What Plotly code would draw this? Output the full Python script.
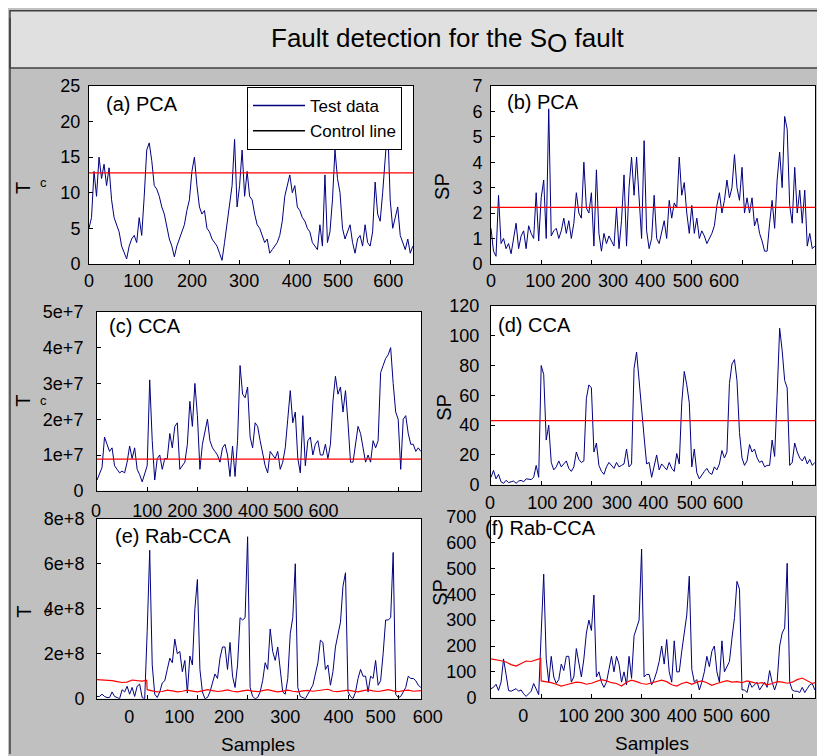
import plotly.graph_objects as go
import numpy as np

W, H = 825, 756
OFF = 8  # page margin around the figure
# measured vertical placement of the rendered page (page_y = VS * y + VB)
VS, VB = 0.974, 9.2
FONT = "Liberation Sans, Arial, sans-serif"
NAVY = "#000080"
RED = "#ff0000"

# ---------------- data (sample index every 5 samples) ----------------
SAMPLES = list(range(0, 650, 5))

PCA_T2 = [
    5, 6.5, 13, 9.5, 15, 12, 14, 11, 13.5, 9,
    6.5, 5.5, 4.5, 2.5, 1.5, 0.7, 2.5, 3.5, 4, 3,
    6.5, 4, 9.5, 16, 17, 14.5, 11, 10.5, 9.5, 8,
    7, 5, 3.5, 2.5, 1, 2.5, 3.5, 4.5, 5.5, 7.5,
    9, 13, 15, 11, 8, 7, 7.5, 5, 4.5, 3.5,
    3, 2.5, 1.5, 0.5, 3, 5.5, 8, 11, 17.5, 8,
    11, 16, 9.5, 13, 9.5, 9, 7, 5.5, 5, 4,
    3, 3.5, 1.5, 2, 2.5, 3, 4, 6, 9.5, 11,
    12.5, 10, 11, 8, 7.5, 6.5, 6, 5, 4.5, 3,
    2.5, 2, 5.5, 2.5, 12.5, 3, 4.5, 9, 16, 12,
    10, 5, 3.5, 4.5, 5.5, 3, 1.5, 3.5, 4, 2.5,
    5.5, 3, 2.5, 4.5, 11.5, 7, 6, 10, 15, 19.5,
    9, 5, 6.5, 8, 4, 3, 2, 3.5, 1.5, 2.5,
]
PCA_SP = [
    1.4, 0.5, 0.3, 2.7, 0.8, 1.0, 0.6, 0.8, 0.4, 1.0,
    1.6, 0.6, 1.1, 1.3, 0.6, 1.5, 1.2, 1.0, 2.8, 0.9,
    2.6, 3.3, 1.0, 6.1, 1.1, 1.3, 1.4, 1.0, 1.3, 1.8,
    1.2, 1.7, 1.0, 1.6, 2.8, 2.0, 1.8, 4.0, 2.2, 2.0,
    2.8, 0.7, 3.7, 1.2, 0.5, 1.2, 0.8, 1.1, 0.9, 0.7,
    2.2, 0.6, 1.7, 3.5, 0.7, 3.0, 4.2, 2.7, 4.2, 2.4,
    1.0, 4.85, 1.3, 0.6, 1.0, 2.7, 1.0, 0.8, 1.2, 1.7,
    1.0, 2.5, 1.8, 2.4, 2.2, 4.2, 2.7, 3.2, 2.0, 1.2,
    2.3, 1.2, 1.8, 1.0, 1.3, 1.1, 0.8, 1.0, 1.2, 1.5,
    2.3, 2.8, 2.0, 2.5, 3.3, 2.6, 3.0, 4.3, 3.0, 2.5,
    3.8, 2.0, 2.6, 2.0, 2.6, 1.5, 1.8, 1.2, 0.9, 0.5,
    0.5, 1.6, 2.5, 1.4, 3.3, 4.4, 3.0, 5.8, 5.3, 2.3,
    1.6, 3.8, 2.0, 2.9, 1.6, 2.9, 0.7, 1.2, 0.6, 0.7,
]
CCA_T2_E7 = [
    0.3, 0.5, 0.65, 1.5, 1.3, 1.1, 1.2, 0.7, 0.6, 0.5,
    0.55, 0.5, 0.8, 1.25, 0.9, 1.2, 0.6, 0.45, 0.25, 0.5,
    0.7, 3.1, 1.4, 0.3, 0.9, 1.0, 0.6, 0.9, 0.9, 1.6,
    1.2, 1.8, 1.9, 0.6, 0.7, 0.8, 1.3, 2.5, 1.8, 3.0,
    2.1, 0.6, 1.3, 1.7, 2.0, 1.4, 1.2, 1.1, 1.0, 0.8,
    1.2, 1.3, 1.0, 0.4, 1.25, 0.4, 1.4, 3.5, 2.7, 2.6,
    2.9, 1.5, 1.2, 1.9, 1.8, 1.4, 1.0, 0.7, 0.5, 1.1,
    1.0, 0.9, 1.1, 0.6, 0.8, 1.2, 2.0, 2.8, 1.9, 2.2,
    0.9, 0.5, 2.1, 0.7, 1.4, 1.5, 1.0, 1.3, 1.4, 1.0,
    1.0, 1.3, 0.9, 1.3, 2.5, 3.2, 2.7, 2.9, 2.2, 2.8,
    1.9, 0.8, 0.8, 1.3, 1.8, 1.6, 1.2, 0.8, 1.0, 0.8,
    1.4, 1.2, 1.4, 3.3, 3.5, 3.7, 3.8, 4.0, 3.0, 2.2,
    2.0, 0.6, 2.0, 2.1, 1.6, 1.3, 1.3, 1.1, 1.2, 1.1,
]
CCA_SP = [
    5, 9.6, 4, 7, 2, 1, 3, 1.5, 2, 2.5,
    1, 2.5, 3, 2, 4, 3.5, 3.5, 5, 13, 5,
    80, 74, 30, 40, 15, 10, 12, 16, 12, 14,
    16, 11, 9, 12, 22, 17, 15, 16, 58, 67,
    65, 22, 28, 13, 9, 7, 12, 15, 13, 11,
    15, 12, 13, 14, 24, 12, 14, 78, 89, 68,
    52, 32, 14, 15, 5, 12, 20, 10, 14, 12,
    10, 15, 11, 9, 21, 14, 55, 76, 67, 55,
    12, 24, 8, 4, 7, 9, 11, 8, 7, 12,
    10, 14, 23, 18, 22, 68, 81, 84, 70, 35,
    18, 13, 16, 27, 22, 24, 18, 15, 16, 12,
    13, 13, 30, 19, 60, 105, 90, 70, 65, 13,
    15, 28, 22, 18, 16, 19, 14, 17, 13, 15,
]
RAB_T2_E8 = [
    0.1, 0.1, 0.2, 0.1, 0.05, 0.05, 0.3, 0.1, 0.05, 0.0,
    0.4, 0.3, 0.55, 0.2, 0.5, 0.1, 0.55, 0.65, 0.05, 0.0,
    3.0, 6.6, 1.5, 0.2, 0.05, 0.3, 0.7, 0.8, 1.3, 1.8,
    1.6, 2.65, 2.0, 2.1, 1.2, 1.7, 0.25, 1.9, 1.5, 4.0,
    5.3, 1.3, 0.3, 0.0, 0.05, 0.3, 0.7, 1.1, 0.9, 1.8,
    2.3, 2.3, 1.3, 2.5, 1.0, 0.5, 1.5, 3.6, 3.5, 3.6,
    7.2, 0.5, 0.1, 0.0, 0.05, 0.3, 0.8, 1.6, 1.3, 3.1,
    2.1, 1.7, 2.3, 1.3, 0.3, 0.2, 0.9, 2.9, 3.6, 6.0,
    0.5, 0.1, 0.05, 0.0, 0.2, 0.4, 0.6, 1.1, 1.6, 2.6,
    2.5, 1.3, 1.5, 0.6, 1.2, 2.3, 2.9, 3.4, 5.0, 5.6,
    0.3, 0.1, 0.0, 0.3, 0.9, 1.3, 1.0, 1.0, 0.3, 1.0,
    0.9, 1.7, 0.6, 0.8, 2.0, 3.5, 3.5, 3.6, 6.5, 0.2,
    0.05, 0.1, 0.3, 0.5, 1.0, 0.9, 0.9, 0.8, 0.6, 0.5,
]
RAB_SP = [
    35, 40, 52, 28, 60, 150, 90, 28, 25, 30,
    35, 25, 30, 15, 5, 15, 25, 55, 30, 12,
    250, 478, 150, 60, 160, 80, 55, 70, 130, 105,
    160, 160, 60, 80, 190, 130, 80, 150, 250, 300,
    260, 397, 80, 100, 60, 40, 60, 110, 160, 100,
    160, 130, 60, 100, 50, 160, 75, 240, 270, 300,
    575, 80, 90, 90, 50, 70, 100, 140, 200, 130,
    225, 100, 60, 220, 100, 100, 180, 260, 320, 470,
    110, 60, 70, 30, 60, 100, 160, 120, 180, 200,
    100, 60, 220, 100, 120, 140, 230, 310, 450, 420,
    30, 30, 20, 60, 40, 50, 60, 30, 45, 60,
    40, 105, 60, 30, 60, 200, 250, 270, 520, 60,
    30, 25, 25, 20, 40, 20, 35, 50, 55, 30,
]

# control limits
LIMIT_PCA_T2 = 12.8
LIMIT_PCA_SP = 2.22
LIMIT_CCA_T2 = 0.885e7
LIMIT_CCA_SP = 43.0
LIMIT_X = [0, 648]

RED_E_X = [0, 10, 20, 30, 40, 50, 60, 70, 80, 90, 99,
           100, 110, 120, 130, 140, 150, 160, 170, 180, 190, 200, 210, 220, 230,
           240, 250, 260, 270, 280, 290, 300, 310, 320, 330, 340, 350, 360, 370,
           380, 390, 400, 410, 420, 430, 440, 450, 460, 470, 480, 490, 500, 510,
           520, 530, 540, 550, 560, 570, 580, 590, 600, 610, 620, 630, 640, 648]
RED_E_E8 = [0.85, 0.84, 0.82, 0.8, 0.76, 0.72, 0.74, 0.83, 0.8, 0.78, 0.82,
            0.4, 0.35, 0.3, 0.32, 0.38, 0.35, 0.3, 0.33, 0.38, 0.34, 0.3, 0.35, 0.4, 0.36,
            0.32, 0.35, 0.39, 0.33, 0.3, 0.35, 0.38, 0.34, 0.31, 0.36, 0.4, 0.35, 0.3, 0.34,
            0.38, 0.33, 0.3, 0.35, 0.37, 0.33, 0.36, 0.39, 0.42, 0.33, 0.31, 0.35, 0.38, 0.34,
            0.3, 0.36, 0.39, 0.35, 0.32, 0.36, 0.4, 0.35, 0.31, 0.36, 0.38, 0.33, 0.35, 0.36]
RED_F_X = RED_E_X
RED_F = [150, 147, 143, 138, 128, 122, 132, 142, 140, 145, 152,
         65, 62, 58, 52, 45, 50, 55, 60, 58, 52, 56, 62, 70, 65,
         58, 55, 45, 60, 68, 62, 55, 52, 58, 65, 68, 62, 50, 45,
         55, 60, 52, 60, 65, 58, 48, 55, 62, 66, 60, 62, 58, 65,
         60, 55, 58, 50, 55, 62, 60, 56, 60, 70, 76, 65, 55, 60]

E7 = 1e7
E8 = 1e8
XTICK_TEXT = ["0", "100", "200", "300", "400", "500", "600"]

# where each panel's x tick labels sit (in sample units)
LABEL_POS = {
    "a": [0, 98, 205, 309, 414, 496, 596],
    "b": [0, 98, 169, 243, 317, 392, 464],
    "c": [-2, 100, 170, 240, 311, 381, 451],
    "d": [-2, 102, 173, 251, 323, 400, 472],
    "e": [64, 164, 263, 375, 481, 565, 659],
    "f": [64, 165, 235, 307, 380, 452, 526],
}

# ---------------- layout geometry (page pixels) ----------------
PX = 0.502  # pixels per sample
panels = [
    dict(k="a", L=89, R=413, T=85, B=263, yr=[0, 25], dt=5, ys=4, xs=4),
    dict(k="b", L=491, R=815, T=85, B=263, yr=[0, 7], dt=1, ys=4, xs=4),
    dict(k="c", L=97, R=421, T=311, B=490, yr=[0, 5e7], dt=1e7, ys=9, xs=7),
    dict(k="d", L=491, R=815, T=305, B=484, yr=[0, 120], dt=20, ys=7, xs=5),
    dict(k="e", L=97, R=421, T=518, B=698, yr=[0, 8e8], dt=2e8, ys=8, xs=5),
    dict(k="f", L=491, R=815, T=516, B=697, yr=[0, 700], dt=100, ys=10, xs=5),
]


def fx(p):
    return (p - OFF) / W


def fy(p):
    q = (p - VB) / VS
    return 1 - (q - OFF) / H


fig = go.Figure()
layout = {}
tickfont = dict(family=FONT, size=18, color="black")

for i, p in enumerate(panels):
    n = i + 1
    s = "" if n == 1 else str(n)
    xr = (p["R"] - p["L"]) / PX
    layout["xaxis" + s] = dict(
        domain=[fx(p["L"]), fx(p["R"])], range=[0, xr], anchor="y" + s,
        showticklabels=False, ticks="inside", ticklen=4, tickcolor="black",
        tickmode="linear", tick0=0, dtick=100, showline=True, mirror=True,
        linecolor="black", linewidth=1, showgrid=False, zeroline=False,
        fixedrange=True)
    layout["yaxis" + s] = dict(
        domain=[fy(p["B"]), fy(p["T"])], range=p["yr"], anchor="x" + s,
        tickmode="linear", tick0=0, dtick=p["dt"], ticks="inside", ticklen=4,
        tickcolor="black", showline=True, mirror=True, linecolor="black",
        linewidth=1, showgrid=False, zeroline=False, exponentformat="e",
        showexponent="all", tickfont=tickfont, ticklabelstandoff=p["ys"],
        fixedrange=True)
    lab = str(n + 6)
    l_px = max(OFF, p["L"] - 20)
    r_px = min(W + OFF, p["R"] + 30)
    layout["xaxis" + lab] = dict(
        domain=[fx(l_px), fx(r_px)],
        range=[(l_px - p["L"]) / PX, (r_px - p["L"]) / PX], anchor="y" + s,
        tickmode="array", tickvals=LABEL_POS[p["k"]], ticktext=XTICK_TEXT,
        ticks="", showline=False, showgrid=False, zeroline=False,
        tickfont=tickfont, ticklabelstandoff=p["xs"], fixedrange=True)
    fig.add_trace(go.Scatter(x=[None], y=[None], xaxis="x" + lab, yaxis="y" + s,
                             showlegend=False, hoverinfo="skip"))
    # white plot background
    fig.add_shape(type="rect", xref="paper", yref="paper", layer="below",
                  x0=fx(p["L"]), x1=fx(p["R"]), y0=fy(p["B"]), y1=fy(p["T"]),
                  fillcolor="white", line=dict(width=0))

blue = dict(color=NAVY, width=1)
redl = dict(color=RED, width=1.2)
series = [
    (np.array(PCA_T2), LIMIT_PCA_T2),
    (np.array(PCA_SP), LIMIT_PCA_SP),
    (np.array(CCA_T2_E7) * E7, LIMIT_CCA_T2),
    (np.array(CCA_SP), LIMIT_CCA_SP),
]
for i, (vals, lim) in enumerate(series):
    n = i + 1
    s = "" if n == 1 else str(n)
    fig.add_trace(go.Scatter(x=SAMPLES, y=vals, mode="lines", line=blue,
                             xaxis="x" + s, yaxis="y" + s, showlegend=False))
    fig.add_trace(go.Scatter(x=LIMIT_X, y=[lim, lim], mode="lines", line=redl,
                             xaxis="x" + s, yaxis="y" + s, showlegend=False))

fig.add_trace(go.Scatter(x=SAMPLES, y=np.array(RAB_T2_E8) * E8, mode="lines",
                         line=blue, xaxis="x5", yaxis="y5", showlegend=False))
fig.add_trace(go.Scatter(x=RED_E_X, y=np.array(RED_E_E8) * E8, mode="lines",
                         line=redl, xaxis="x5", yaxis="y5", showlegend=False))
fig.add_trace(go.Scatter(x=SAMPLES, y=RAB_SP, mode="lines", line=blue,
                         xaxis="x6", yaxis="y6", showlegend=False))
fig.add_trace(go.Scatter(x=RED_F_X, y=RED_F, mode="lines", line=redl,
                         xaxis="x6", yaxis="y6", showlegend=False))

# legend entries
fig.add_trace(go.Scatter(x=[None], y=[None], mode="lines", name="Test data",
                         line=dict(color=NAVY, width=1.5), xaxis="x", yaxis="y"))
fig.add_trace(go.Scatter(x=[None], y=[None], mode="lines", name="Control line",
                         line=dict(color="black", width=1.5), xaxis="x", yaxis="y"))

# header band and left border
fig.add_shape(type="rect", xref="paper", yref="paper", layer="below",
              x0=fx(10), x1=1.01, y0=fy(67), y1=1.01, fillcolor="#e0e0e0",
              line=dict(color="#404040", width=1.5))
fig.add_shape(type="line", xref="paper", yref="paper", layer="below",
              x0=fx(10), x1=fx(10), y0=0, y1=1, line=dict(color="#404040", width=1.5))

ann = []


def text(x, y, t, size=20, xanchor="left", angle=0):
    ann.append(dict(x=fx(x), y=fy(y), xref="paper", yref="paper", text=t,
                    showarrow=False, xanchor=xanchor, yanchor="middle",
                    textangle=angle, font=dict(family=FONT, size=size, color="black")))


text(447, 40, 'Fault detection for the S<sub><span style="font-size:26px">O</span></sub> fault',
     size=26, xanchor="center")
text(104, 103, "(a) PCA")
text(505, 101, "(b) PCA")
text(107, 325, "(c) CCA")
text(496, 324, "(d) CCA")
text(113, 535, "(e) Rab-CCA")
text(483, 527, "(f) Rab-CCA")
text(23, 187, "T", xanchor="center", angle=-90)
text(43, 182, "c", size=13, xanchor="center")
text(23, 400, "T", xanchor="center", angle=-90)
text(43, 400, "c", size=13, xanchor="center")
text(24, 611, "T", xanchor="center", angle=-90)
text(47, 611, "c", size=13, xanchor="center")
text(442, 185, "SP", xanchor="center", angle=-90)
text(444, 406, "SP", xanchor="center", angle=-90)
text(440, 592, "SP", xanchor="center", angle=-90)
text(258, 744, "Samples", size=19, xanchor="center")
text(652, 743, "Samples", size=19, xanchor="center")

fig.update_layout(
    width=W, height=H, margin=dict(l=0, r=0, t=0, b=0),
    paper_bgcolor="#c0c0c0", plot_bgcolor="rgba(0,0,0,0)",
    font=dict(family=FONT, size=18, color="black"),
    annotations=ann,
    legend=dict(x=fx(247), y=fy(86), xanchor="left", yanchor="top",
                bgcolor="white", bordercolor="black", borderwidth=1,
                font=dict(family=FONT, size=17, color="black"),
                itemwidth=52, tracegroupgap=0),
    **layout,
)

fig.write_html("out.html")
